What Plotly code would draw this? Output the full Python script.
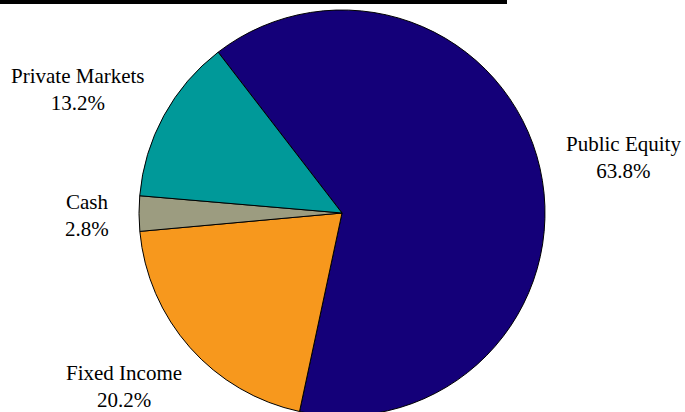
import plotly.graph_objects as go

labels = ["Public Equity", "Fixed Income", "Cash", "Private Markets"]
values = [63.8, 20.2, 2.8, 13.2]
colors = ["#140079", "#F7981D", "#9C9C80", "#009999"]
# label anchor positions (paper coords) for each category
label_x = [623, 124, 87, 78]
label_y = [157, 386, 216, 89]

W, H = 685, 420

fig = go.Figure(go.Pie(
    labels=labels, values=values, sort=False, direction="clockwise",
    rotation=-37.6,
    marker=dict(colors=colors, line=dict(color="black", width=1)),
    textinfo="none", hoverinfo="label+percent", showlegend=False,
    domain=dict(x=[139 / W, 545 / W], y=[(H - 416) / H, (H - 10) / H]),
))

annotations = []
for lab, v, lx, ly in zip(labels, values, label_x, label_y):
    annotations.append(dict(
        x=lx / W, y=1 - ly / H, xref="paper", yref="paper",
        text=f"{lab}<br>{v:.1f}%", showarrow=False,
        font=dict(family="Liberation Serif", size=21, color="black"),
        xanchor="center", yanchor="middle", align="center",
    ))

fig.update_layout(
    width=W, height=H, margin=dict(l=0, r=0, t=0, b=0),
    paper_bgcolor="white", plot_bgcolor="white",
    annotations=annotations,
    shapes=[dict(type="rect", xref="paper", yref="paper",
                 x0=0, x1=507 / W, y0=1 - 4 / H, y1=1,
                 fillcolor="black", line=dict(width=0))],
)

fig.write_html("out.html", config={"displayModeBar": False},
               post_script="document.body.style.margin='0';document.body.style.overflow='hidden';")
